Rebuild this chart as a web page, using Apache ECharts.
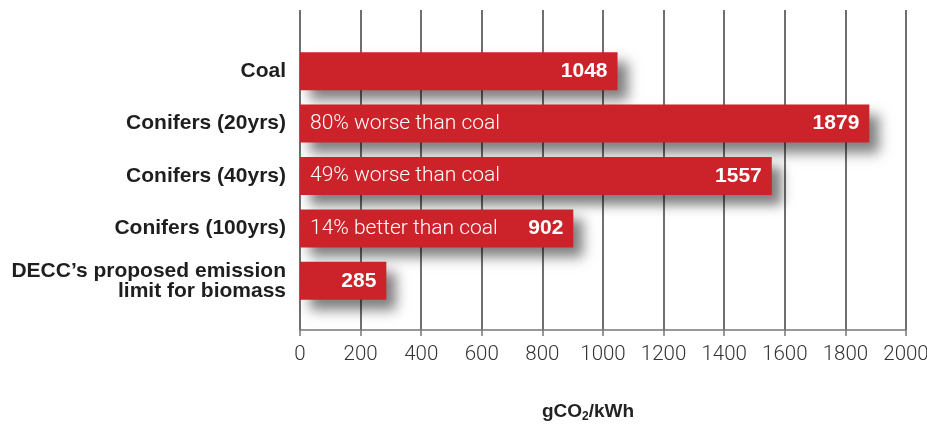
<!DOCTYPE html>
<html>
<head>
<meta charset="utf-8">
<script src="https://cdn.jsdelivr.net/npm/echarts@6/dist/echarts.min.js"></script>
<style>html,body{margin:0;padding:0;background:#fff}#c{width:927px;height:427px}</style>
</head>
<body>
<div id="c"></div>
<script>
const categories = ['Coal', 'Conifers (20yrs)', 'Conifers (40yrs)', 'Conifers (100yrs)', 'DECC\u2019s proposed emission\nlimit for biomass'];
const values = [1048, 1879, 1557, 902, 285];
const notes = ['', '80% worse than coal', '49% worse than coal', '14% better than coal', ''];
const xMin = 0, xMax = 2000, xStep = 200;

const FB = '"Liberation Sans", Arial, sans-serif';
const FL = 'Roboto, "Liberation Sans", sans-serif';
const chart = echarts.init(document.getElementById('c'), null, {renderer: 'canvas'});
chart.setOption({
  animation: false,
  grid: [
    {left: 300, right: 21, top: 10, bottom: 97, containLabel: false, outerBoundsMode: 'none'},
    {left: 300, right: 21, top: 45, bottom: 120, containLabel: false, outerBoundsMode: 'none'}
  ],
  xAxis: [
    {
      gridIndex: 0, type: 'value', min: xMin, max: xMax, interval: xStep,
      axisLine: {show: true, lineStyle: {color: '#777', width: 1.5}},
      axisTick: {show: true, length: 6, lineStyle: {color: '#777', width: 1.5}},
      splitLine: {show: true, lineStyle: {color: '#606060', width: 1.8}},
      axisLabel: {color: '#333', fontFamily: FL, fontWeight: 300, fontSize: 20.5, margin: 14,
        showMinLabel: true, showMaxLabel: true, hideOverlap: false, formatter: v => String(v)},
      name: '{a|gCO}{s|2}{a|/kWh}', nameLocation: 'middle', nameGap: 71,
      nameTextStyle: {padding: [0, 30, 0, 0], rich: {
        a: {fontFamily: FB, fontWeight: 'bold', fontSize: 19, color: '#222'},
        s: {fontFamily: FB, fontWeight: 'bold', fontSize: 12, color: '#222', padding: [10, 0, 0, 0]}
      }}
    },
    {gridIndex: 1, type: 'value', min: xMin, max: xMax, show: false}
  ],
  yAxis: [
    {gridIndex: 0, type: 'value', min: 0, max: 1, show: false},
    {
      gridIndex: 1, type: 'category', data: categories, inverse: true,
      axisLine: {show: false}, axisTick: {show: false},
      axisLabel: {color: '#1e1e1e', fontFamily: FB, fontWeight: 'bold', fontSize: 21, margin: 14, lineHeight: 20, align: 'right'}
    }
  ],
  series: [
    {
      type: 'bar', xAxisIndex: 1, yAxisIndex: 1, data: values, barWidth: 38,
      itemStyle: {color: '#cc2229', shadowColor: 'rgba(0,0,0,0.5)', shadowBlur: 12, shadowOffsetX: 10, shadowOffsetY: 10},
      label: {show: true, position: 'insideLeft', distance: 10, color: '#fff', fontFamily: FL, fontWeight: 300, fontSize: 21,
        formatter: p => notes[p.dataIndex]}
    },
    {
      type: 'bar', xAxisIndex: 1, yAxisIndex: 1, data: values, barWidth: 38, barGap: '-100%',
      itemStyle: {color: 'rgba(0,0,0,0)'}, silent: true,
      label: {show: true, position: 'insideRight', distance: 10, color: '#fff', fontFamily: FB, fontWeight: 'bold', fontSize: 21}
    }
  ]
});
</script>
</body>
</html>
